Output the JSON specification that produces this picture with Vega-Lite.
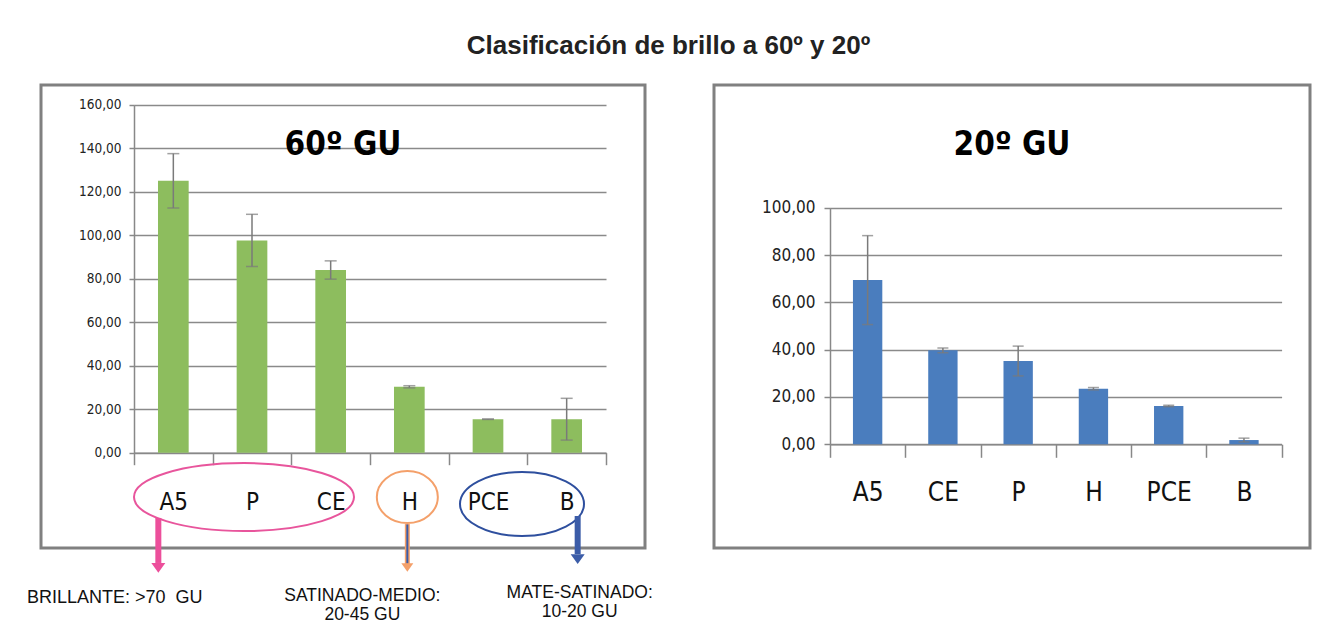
{
  "$schema": "https://vega.github.io/schema/vega-lite/v6.json",
  "padding": {"left": 25, "top": 32, "right": 10, "bottom": 5},
  "background": "white",
  "title": {"text": "Clasificación de brillo a 60º y 20º", "font": "Liberation Sans", "fontSize": 26, "fontWeight": "bold", "color": "#222222", "offset": 25, "anchor": "middle"},
  "bounds": "flush",
  "spacing": 69,
  "datasets": {
    "g60": [
      {"cat": "A5", "v": 125.0, "e": 12.5},
      {"cat": "P", "v": 97.6, "e": 12.0},
      {"cat": "CE", "v": 84.0, "e": 4.2},
      {"cat": "H", "v": 30.3, "e": 0.5},
      {"cat": "PCE", "v": 15.4, "e": 0.1},
      {"cat": "B", "v": 15.4, "e": 9.6}
    ],
    "g20": [
      {"cat": "A5", "v": 69.4, "e": 18.8},
      {"cat": "CE", "v": 39.7, "e": 1.0},
      {"cat": "P", "v": 35.2, "e": 6.3},
      {"cat": "H", "v": 23.5, "e": 0.5},
      {"cat": "PCE", "v": 16.2, "e": 0.3},
      {"cat": "B", "v": 1.8, "e": 0.8}
    ]
  },
  "hconcat": [
    {
      "width": 604,
      "height": 463,
      "view": {"stroke": "#808080", "strokeWidth": 3},
      "title": {"text": "60º GU", "font": "DejaVu Sans Condensed, Roboto, sans-serif", "fontSize": 33, "fontWeight": "bold", "color": "#000000", "anchor": "middle", "frame": "group", "baseline": "alphabetic", "offset": -103},
      "data": {"name": "g60"},
      "layer": [
        {
          "mark": {"type": "bar", "color": "#8dbd5e", "width": {"band": 0.39}},
          "encoding": {
            "x": {"field": "cat", "type": "nominal", "sort": null,
              "scale": {"domain": ["A5", "P", "CE", "H", "PCE", "B"], "range": [93, 565], "paddingInner": 0, "paddingOuter": 0},
              "axis": {"title": null, "tickBand": "extent", "tickSize": 12, "tickColor": "#888888", "tickWidth": 1.5, "domainColor": "#888888", "domainWidth": 1.5, "labelAngle": 0, "labelFont": "DejaVu Sans Condensed, Roboto, sans-serif", "labelFontSize": 24, "labelColor": "#111111", "labelPadding": 26, "offset": -95.3, "grid": false}},
            "y": {"field": "v", "type": "quantitative",
              "scale": {"domain": [0, 160], "range": [367.7, 19.7], "nice": false, "zero": true},
              "axis": {"title": null, "values": [0, 20, 40, 60, 80, 100, 120, 140, 160], "grid": true, "gridColor": "#8a8a8a", "gridWidth": 1.5, "domainColor": "#888888", "domainWidth": 1.5, "tickColor": "#888888", "tickWidth": 1.5, "tickSize": 5, "labelPadding": 8, "labelFont": "DejaVu Sans Condensed, Roboto, sans-serif", "labelFontSize": 13.5, "labelColor": "#222222", "labelExpr": "replace(format(datum.value, '.2f'), '.', ',')", "offset": -93}}
          }
        },
        {
          "mark": {"type": "errorbar", "ticks": true, "size": 12, "thickness": 1.5, "color": "#7a7a7a"},
          "encoding": {
            "x": {"field": "cat", "type": "nominal", "sort": null},
            "y": {"field": "v", "type": "quantitative", "title": null},
            "yError": {"field": "e"}
          }
        },
        {
          "data": {"values": [{}]},
          "mark": {"type": "point", "shape": "M 1 0 C 1 0.171 0.552 0.309 0 0.309 C -0.552 0.309 -1 0.171 -1 0 C -1 -0.171 -0.552 -0.309 0 -0.309 C 0.552 -0.309 1 -0.171 1 0 Z", "size": 48400, "filled": false, "stroke": "#e8559c", "strokeWidth": 2, "opacity": 1, "xOffset": -8},
          "encoding": {"x": {"datum": "P"}, "y": {"datum": -20.4}}
        },
        {
          "data": {"values": [{}]},
          "mark": {"type": "point", "shape": "M 1 0 C 1 0.471 0.552 0.852 0 0.852 C -0.552 0.852 -1 0.471 -1 0 C -1 -0.471 -0.552 -0.852 0 -0.852 C 0.552 -0.852 1 -0.471 1 0 Z", "size": 3721, "filled": false, "stroke": "#f4a06a", "strokeWidth": 2, "opacity": 1, "xOffset": -2},
          "encoding": {"x": {"datum": "H"}, "y": {"datum": -20.4}}
        },
        {
          "data": {"values": [{}]},
          "mark": {"type": "point", "shape": "M 1 0 C 1 0.285 0.552 0.516 0 0.516 C -0.552 0.516 -1 0.285 -1 0 C -1 -0.285 -0.552 -0.516 0 -0.516 C 0.552 -0.516 1 -0.285 1 0 Z", "size": 15376, "filled": false, "stroke": "#2e4f9e", "strokeWidth": 2, "opacity": 1, "xOffset": 34},
          "encoding": {"x": {"datum": "PCE"}, "y": {"datum": -23.6}}
        },
        {
          "data": {"values": [{}]},
          "mark": {"type": "rule", "strokeWidth": 6, "color": "#ec4f9b", "xOffset": -15},
          "encoding": {"x": {"datum": "A5"}, "y": {"datum": -30.0}, "y2": {"datum": -50.7}}
        },
        {
          "data": {"values": [{}]},
          "mark": {"type": "point", "shape": "M -1 -0.7 L 1 -0.7 L 0 0.7 Z", "size": 196, "filled": true, "color": "#ec4f9b", "opacity": 1, "xOffset": -15},
          "encoding": {"x": {"datum": "A5"}, "y": {"datum": -53.0}}
        },
        {
          "data": {"values": [{}]},
          "mark": {"type": "rule", "strokeWidth": 5, "color": "#f4a06a", "xOffset": -2},
          "encoding": {"x": {"datum": "H"}, "y": {"datum": -32.8}, "y2": {"datum": -51.2}}
        },
        {
          "data": {"values": [{}]},
          "mark": {"type": "rule", "strokeWidth": 2, "color": "#3b5ca8", "xOffset": -2},
          "encoding": {"x": {"datum": "H"}, "y": {"datum": -33.0}, "y2": {"datum": -51.0}}
        },
        {
          "data": {"values": [{}]},
          "mark": {"type": "point", "shape": "M -1 -0.7 L 1 -0.7 L 0 0.7 Z", "size": 144, "filled": true, "color": "#f4a06a", "opacity": 1, "xOffset": -2},
          "encoding": {"x": {"datum": "H"}, "y": {"datum": -52.8}}
        },
        {
          "data": {"values": [{}]},
          "mark": {"type": "rule", "strokeWidth": 6, "color": "#3b5ca8", "xOffset": 11},
          "encoding": {"x": {"datum": "B"}, "y": {"datum": -29.1}, "y2": {"datum": -46.6}}
        },
        {
          "data": {"values": [{}]},
          "mark": {"type": "point", "shape": "M -1 -0.7 L 1 -0.7 L 0 0.7 Z", "size": 196, "filled": true, "color": "#3b5ca8", "opacity": 1, "xOffset": 11},
          "encoding": {"x": {"datum": "B"}, "y": {"datum": -48.9}}
        },
        {
          "data": {"values": [{}]},
          "mark": {"type": "text", "text": "BRILLANTE: >70\u00a0\u00a0GU", "font": "Liberation Sans", "fontSize": 18, "align": "left", "baseline": "alphabetic", "dx": -146.4, "color": "#111111"},
          "encoding": {"x": {"datum": "A5"}, "y": {"datum": -69.1}}
        },
        {
          "data": {"values": [{}]},
          "mark": {"type": "text", "text": ["SATINADO-MEDIO:", "20-45 GU"], "font": "Liberation Sans", "fontSize": 17.5, "lineHeight": 19, "align": "center", "baseline": "alphabetic", "dx": -47, "color": "#111111"},
          "encoding": {"x": {"datum": "H"}, "y": {"datum": -68.2}}
        },
        {
          "data": {"values": [{}]},
          "mark": {"type": "text", "text": ["MATE-SATINADO:", "10-20 GU"], "font": "Liberation Sans", "fontSize": 17.5, "lineHeight": 19, "align": "center", "baseline": "alphabetic", "dx": 13, "color": "#111111"},
          "encoding": {"x": {"datum": "B"}, "y": {"datum": -66.6}}
        }
      ]
    },
    {
      "width": 596,
      "height": 463,
      "view": {"stroke": "#808080", "strokeWidth": 3},
      "title": {"text": "20º GU", "font": "DejaVu Sans Condensed, Roboto, sans-serif", "fontSize": 33, "fontWeight": "bold", "color": "#000000", "anchor": "middle", "frame": "group", "baseline": "alphabetic", "offset": -103},
      "data": {"name": "g20"},
      "layer": [
        {
          "mark": {"type": "bar", "color": "#4a7dbe", "width": {"band": 0.39}},
          "encoding": {
            "x": {"field": "cat", "type": "nominal", "sort": null,
              "scale": {"domain": ["A5", "CE", "P", "H", "PCE", "B"], "range": [116, 567.6], "paddingInner": 0, "paddingOuter": 0},
              "axis": {"title": null, "tickBand": "extent", "tickSize": 13, "tickColor": "#888888", "tickWidth": 1.5, "domainColor": "#888888", "domainWidth": 1.5, "labelAngle": 0, "labelFont": "DejaVu Sans Condensed, Roboto, sans-serif", "labelFontSize": 26, "labelColor": "#111111", "labelPadding": 22, "offset": -103.7, "grid": false}},
            "y": {"field": "v", "type": "quantitative",
              "scale": {"domain": [0, 100], "range": [359.3, 122.7], "nice": false, "zero": true},
              "axis": {"title": null, "values": [0, 20, 40, 60, 80, 100], "grid": true, "gridColor": "#8a8a8a", "gridWidth": 1.5, "domainColor": "#888888", "domainWidth": 1.5, "tickColor": "#888888", "tickWidth": 1.5, "tickSize": 6, "labelPadding": 9, "labelFont": "DejaVu Sans Condensed, Roboto, sans-serif", "labelFontSize": 17, "labelColor": "#222222", "labelExpr": "replace(format(datum.value, '.2f'), '.', ',')", "offset": -116}}
          }
        },
        {
          "mark": {"type": "errorbar", "ticks": true, "size": 11, "thickness": 1.5, "color": "#7a7a7a"},
          "encoding": {
            "x": {"field": "cat", "type": "nominal", "sort": null},
            "y": {"field": "v", "type": "quantitative", "title": null},
            "yError": {"field": "e"}
          }
        }
      ]
    }
  ]
}
